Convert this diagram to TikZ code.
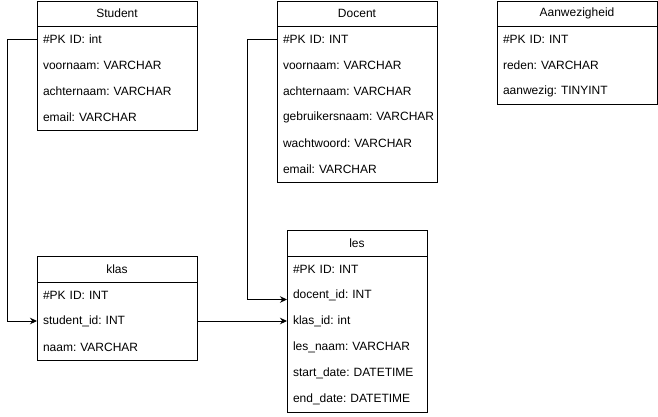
\documentclass[tikz,border=0pt]{standalone}
\usepackage{fontspec}
\setmainfont{Liberation Sans}
\usetikzlibrary{arrows.meta}
\frenchspacing
\begin{document}
\begin{tikzpicture}[x=1pt,y=-1pt,
  every node/.style={font=\fontsize{12}{14}\selectfont\frenchspacing, outer sep=0},
  box/.style={draw, line width=1pt, anchor=north west, minimum width=#1, inner sep=0},
  hdr/.style={anchor=north west, minimum width=#1, minimum height=25, inner sep=0},
  row/.style={anchor=north west, text width={#1-12}, align=left, inner xsep=6, inner ysep=0, minimum height=26},
  sep/.style={line width=1pt},
  conn/.style={line width=1pt, -{Stealth[length=7pt,width=6.5pt]}}]
\useasboundingbox (0,0) rectangle (658,416);

% Student
\node[box=160, minimum height=129] (studentbox) at (37,1) {};
\node[hdr=160] (student) at (37,1) {Student};
\draw[sep] (student.south west) -- (student.south east);
\foreach \t [count=\i] in {\#PK ID: int, voornaam: VARCHAR, achternaam: VARCHAR, email: VARCHAR}
  \node[row=160] (student-\i) at (37,{26+(\i-1)*26}) {\makebox[0pt][l]{\t}};

% Docent
\node[box=160, minimum height=181] (docentbox) at (277,1) {};
\node[hdr=160] (docent) at (277,1) {Docent};
\draw[sep] (docent.south west) -- (docent.south east);
\foreach \t [count=\i] in {\#PK ID: INT, voornaam: VARCHAR, achternaam: VARCHAR, gebruikersnaam: VARCHAR, wachtwoord: VARCHAR, email: VARCHAR}
  \node[row=160] (docent-\i) at (277,{26+(\i-1)*26}) {\makebox[0pt][l]{\t}};

% Aanwezigheid
\node[box=160, minimum height=103] (aanwbox) at (497,1) {};
\node[hdr=160] (aanw) at (497,1) {Aanwezigheid};
\draw[sep] (aanw.south west) -- (aanw.south east);
\foreach \t [count=\i] in {\#PK ID: INT, reden: VARCHAR, aanwezig: TINYINT}
  \node[row=160] (aanw-\i) at (497,{26+(\i-1)*26}) {\makebox[0pt][l]{\t}};

% klas
\node[box=160, minimum height=104] (klasbox) at (37,256) {};
\node[hdr=160, minimum height=26] (klas) at (37,256) {klas};
\draw[sep] (klas.south west) -- (klas.south east);
\foreach \t [count=\i] in {\#PK ID: INT, student\_id: INT, naam: VARCHAR}
  \node[row=160] (klas-\i) at (37,{282+(\i-1)*26}) {\makebox[0pt][l]{\t}};

% les
\node[box=140, minimum height=182] (lesbox) at (287,230) {};
\node[hdr=140, minimum height=26] (les) at (287,230) {les};
\draw[sep] (les.south west) -- (les.south east);
\foreach \t [count=\i] in {\#PK ID: INT, docent\_id: INT, klas\_id: int, les\_naam: VARCHAR, start\_date: DATETIME, end\_date: DATETIME}
  \node[row=140] (les-\i) at (287,{256+(\i-1)*26}) {\makebox[0pt][l]{\t}};

% connectors
\draw[conn] (student-1.west) -- ++(-30,0) |- (klas-2.west);
\draw[conn] (docent-1.west) -- ++(-30,0) |- ([yshift=-4.5pt]les-2.west);
\draw[conn] (klas-2.east) -- (les-3.west);
\end{tikzpicture}
\end{document}
